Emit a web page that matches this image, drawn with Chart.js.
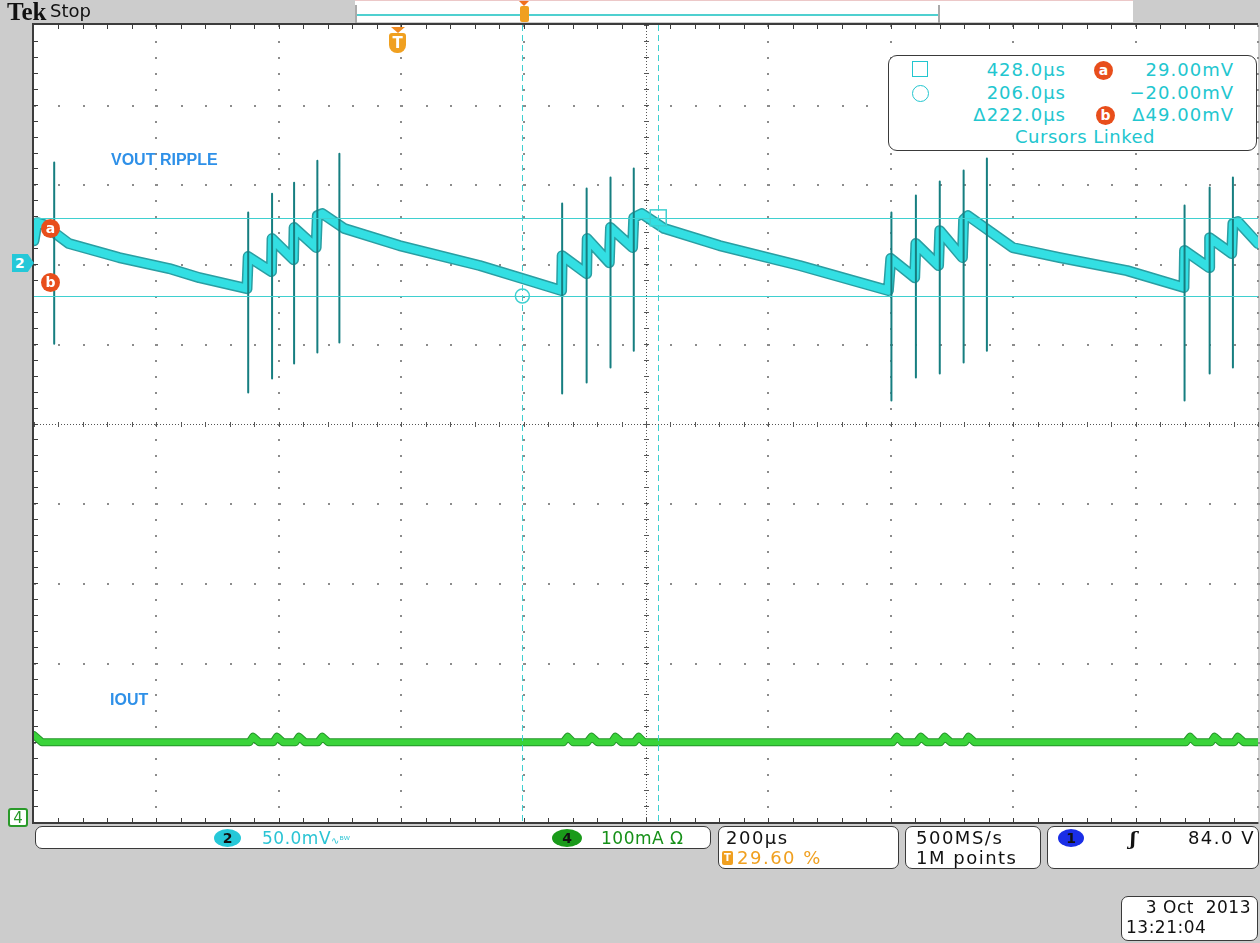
<!DOCTYPE html>
<html>
<head>
<meta charset="utf-8">
<title>Tek VOUT ripple</title>
<script src="https://cdn.jsdelivr.net/npm/chart.js@4.4.1/dist/chart.umd.min.js"></script>
<style>
  html, body { margin: 0; padding: 0; }
  body { width: 1260px; height: 943px; overflow: hidden; background: #cccccc; font-family: "DejaVu Sans", sans-serif; }
  #wrap { position: relative; width: 1260px; height: 943px; }
  #wrap canvas { position: absolute; left: 0; top: 0; }
  .t { position: absolute; white-space: nowrap; line-height: 20px; }
  .box { position: absolute; background: #fff; border: 1.5px solid #3a3a3a; border-radius: 7px; box-sizing: border-box; }
  .ro { font-size: 18px; letter-spacing: 1px; color: #22c6cf; }
  .info { font-size: 18px; letter-spacing: 1.5px; color: #111; }
  .dot { position: absolute; border-radius: 50%; text-align: center; font: bold 14px "DejaVu Sans"; line-height: 18px; }
  .lbl { position: absolute; font: bold 16px "Liberation Sans", Arial, sans-serif; color: #2e90e8; }
</style>
</head>
<body>
<div id="wrap">
  <canvas id="scope" width="1260" height="943"></canvas>

  <!-- top bar -->
  <div class="t" style="left:7px;top:-2px;font:bold 25px 'Liberation Serif';color:#111">Tek</div>
  <div class="t" style="left:50px;top:1px;font-size:18px;color:#111">Stop</div>
  <div style="position:absolute;left:355px;top:0;width:778px;height:21px;background:#fff;border-top:1px solid #ecc8c8"></div>
  <div style="position:absolute;left:357px;top:14px;width:582px;height:2px;background:#4fd0d0"></div>
  <div style="position:absolute;left:355px;top:5px;width:2px;height:18px;background:#aaa"></div>
  <div style="position:absolute;left:938px;top:5px;width:2px;height:18px;background:#aaa"></div>
  <div style="position:absolute;left:520px;top:6px;width:9px;height:16px;background:#f0a020;border-radius:2px"></div>
  <div style="position:absolute;left:519px;top:1px;width:0;height:0;border-left:5px solid transparent;border-right:5px solid transparent;border-top:5px solid #f07020"></div>

  <!-- trigger position marker -->
  <div style="position:absolute;left:391px;top:27px;width:0;height:0;border-left:7px solid transparent;border-right:7px solid transparent;border-top:6px solid #f08a20"></div>
  <div style="position:absolute;left:389px;top:33px;width:17px;height:20px;background:#f0a020;border-radius:3px 3px 8px 8px;color:#fff;font:bold 15px 'DejaVu Sans';text-align:center;line-height:20px">T</div>

  <!-- channel ground markers -->
  <div style="position:absolute;left:12px;top:254px;width:22px;height:18px;background:#25c8d8;clip-path:polygon(0 0,72% 0,100% 50%,72% 100%,0 100%);color:#fff;font:bold 14px 'DejaVu Sans';line-height:18px;padding-left:3px;box-sizing:border-box">2</div>
  <div style="position:absolute;left:8px;top:808px;width:20px;height:19px;background:#fff;border:2px solid #2a9a2a;border-radius:3px;color:#2a9a2a;font:15px 'DejaVu Sans';line-height:17px;text-align:center;box-sizing:border-box">4</div>

  <!-- cursor a / b tags on the left -->
  <div class="dot" style="left:41px;top:219px;width:19px;height:19px;background:#e84e1b;color:#fff">a</div>
  <div class="dot" style="left:41px;top:273px;width:19px;height:19px;background:#e84e1b;color:#fff">b</div>

  <!-- trace labels -->
  <div class="lbl" style="left:111px;top:151px">VOUT RIPPLE</div>
  <div class="lbl" style="left:110px;top:691px">IOUT</div>

  <!-- cursor readout -->
  <div class="box" style="left:888px;top:55px;width:369px;height:96px;border-radius:9px"></div>
  <div style="position:absolute;left:912px;top:61px;width:14px;height:14px;border:1.5px solid #22c6cf"></div>
  <div style="position:absolute;left:912px;top:85px;width:15px;height:15px;border:1.5px solid #22c6cf;border-radius:50%"></div>
  <div class="t ro" style="right:194px;top:60px">428.0µs</div>
  <div class="t ro" style="right:194px;top:83px">206.0µs</div>
  <div class="t ro" style="right:194px;top:105px">Δ222.0µs</div>
  <div class="t ro" style="right:26px;top:60px">29.00mV</div>
  <div class="t ro" style="right:26px;top:83px">−20.00mV</div>
  <div class="t ro" style="right:26px;top:105px">Δ49.00mV</div>
  <div class="t ro" style="left:1005px;top:127px;width:160px;text-align:center;letter-spacing:0.5px">Cursors Linked</div>
  <div class="dot" style="left:1094px;top:61px;width:19px;height:19px;background:#e84e1b;color:#fff">a</div>
  <div class="dot" style="left:1096px;top:106px;width:19px;height:19px;background:#e84e1b;color:#fff">b</div>

  <!-- bottom status bar -->
  <div class="box" style="left:35px;top:826px;width:676px;height:23px"></div>
  <div class="dot" style="left:214px;top:829px;width:27px;height:18px;background:#25c8d8;color:#111">2</div>
  <div class="t" style="left:262px;top:828px;font-size:17px;color:#2ac4d4;letter-spacing:0.5px">50.0mV<span style="font-size:10px;letter-spacing:0">∿ᴮᵂ</span></div>
  <div class="dot" style="left:552px;top:829px;width:30px;height:18px;background:#1a9a1a;color:#111">4</div>
  <div class="t" style="left:601px;top:828px;font-size:17px;color:#169018;letter-spacing:0.5px">100mA Ω</div>

  <div class="box" style="left:718px;top:826px;width:181px;height:43px"></div>
  <div class="t info" style="left:726px;top:828px">200µs</div>
  <div style="position:absolute;left:722px;top:851px;width:11px;height:14px;background:#f0a020;border-radius:2px;color:#fff;font:bold 10px 'DejaVu Sans';text-align:center;line-height:14px">T</div>
  <div class="t info" style="left:737px;top:848px;color:#f0a020">29.60 %</div>

  <div class="box" style="left:905px;top:826px;width:136px;height:43px"></div>
  <div class="t info" style="left:916px;top:828px">500MS/s</div>
  <div class="t info" style="left:916px;top:848px">1M points</div>

  <div class="box" style="left:1047px;top:826px;width:212px;height:43px"></div>
  <div class="dot" style="left:1058px;top:829px;width:26px;height:18px;background:#1a2ee6;color:#111">1</div>
  <div class="t" style="left:1130px;top:827px;font:bold italic 19px 'DejaVu Serif';color:#111">ʃ</div>
  <div class="t info" style="right:5px;top:828px">84.0 V</div>

  <div class="box" style="left:1121px;top:896px;width:137px;height:45px"></div>
  <div class="t" style="right:9px;top:897px;font-size:17px;color:#111;letter-spacing:0.5px">3 Oct&nbsp; 2013</div>
  <div class="t" style="left:1126px;top:917px;font-size:17px;color:#111;letter-spacing:0.5px">13:21:04</div>
</div>

<script>
// CH2 VOUT ripple (AC, 50 mV/div), trace key points
const vTime = [-592, -587, -576, -559, -535, -453, -371, -322, -244,
  -242, -204, -203, -168, -167, -131, -129, -121, -85, 5, 136, 206, 270,
  271, 311, 312, 348, 350, 386, 388, 401, 438, 528, 659, 804,
  808, 847, 849, 886, 888, 925, 927, 934, 1007, 1084, 1194, 1287,
  1288, 1328, 1329, 1365, 1367, 1375, 1408];
const vRipple = [14.7, 26.0, 24.8, 19.8, 12.9, 4.1, -2.8, -8.5, -15.4,
  4.7, -4.7, 16.0, 2.8, 22.9, 10.4, 30.4, 31.7, 22.3, 11.6, -0.9, -9.1, -16.6,
  5.3, -6.0, 16.0, 0.9, 22.9, 10.4, 29.2, 31.7, 22.3, 11.6, -0.9, -16.6,
  3.5, -8.5, 12.9, -0.9, 21.0, 4.1, 27.9, 30.4, 10.4, 4.1, -4.1, -14.7,
  8.5, -2.2, 16.6, 6.6, 25.4, 26.7, 12.9];

// switching spikes on CH2 (time, top, bottom in mV)
const spikeTime = [-559, -242, -203, -167, -129, -93, 271, 311, 350, 388,
  809, 849, 888, 927, 965, 1288, 1329, 1367];
const spikeHigh = [63.7, 32.3, 44.2, 51.1, 64.9, 69.3, 38.0, 47.4, 54.3, 59.9,
  32.3, 43.0, 51.8, 58.7, 66.2, 36.7, 48.0, 54.3];
const spikeLow = [-49.9, -80.6, -71.8, -62.4, -55.5, -49.2, -81.2, -74.3, -64.9, -54.3,
  -85.6, -71.2, -68.7, -61.8, -54.3, -85.6, -68.7, -64.9];

// CH4 IOUT (100 mA/div)
const iTime = [-592, -579,
  -240, -234, -224, -201, -195, -185, -165, -159, -149, -128, -121, -111,
  273, 280, 289, 312, 319, 329, 352, 358, 368, 389, 396, 405,
  811, 818, 827, 850, 857, 867, 889, 896, 906, 929, 935, 945,
  1290, 1297, 1306, 1331, 1337, 1347, 1369, 1375, 1385, 1408];
const iOut = [103, 94,
  94, 101, 94, 94, 101, 94, 94, 101, 94, 94, 101, 94,
  94, 101, 94, 94, 101, 94, 94, 101, 94, 94, 101, 94,
  94, 101, 94, 94, 101, 94, 94, 101, 94, 94, 101, 94,
  94, 101, 94, 94, 101, 94, 94, 101, 94, 94];

// cursors: [circle, square] times and [a, b] levels
const cursorTime = [206.0, 428.0];
const cursorVolt = [29.0, -20.0];

const ripplePts = vTime.map((t, i) => ({ x: t, y: vRipple[i] }));
const currentPts = iTime.map((t, i) => ({ x: t, y: iOut[i] }));
const spikePts = [];
spikeTime.forEach((t, i) => {
  spikePts.push({ x: t, y: spikeHigh[i] }, { x: t, y: spikeLow[i] }, { x: t, y: null });
});

// graticule: 10 x 10 divisions, dotted majors, dense center cross
const graticule = {
  id: "graticule",
  beforeDatasetsDraw(chart) {
    const { ctx, chartArea: a } = chart;
    const w = a.right - a.left, h = a.bottom - a.top;
    const dx = w / 10, dy = h / 10;
    ctx.save();
    ctx.fillStyle = "#fff";
    ctx.fillRect(a.left, a.top, w, h);

    ctx.fillStyle = "#8c8c8c";
    for (let i = 1; i <= 10; i++) {
      if (i === 5) continue;
      const x = Math.round(a.left + i * dx) - 1;
      for (let j = 0; j <= 50; j++) ctx.fillRect(x, Math.round(a.top + j * dy / 5), 2, 2);
      if (i === 10) continue;
      const y = Math.round(a.top + i * dy);
      for (let j = 0; j <= 50; j++) ctx.fillRect(Math.round(a.left + j * dx / 5), y, 2, 2);
    }

    const cx = Math.round(a.left + 5 * dx), cy = Math.round(a.top + 5 * dy);
    ctx.fillStyle = "#555";
    for (let y = a.top; y < a.bottom; y += 3) ctx.fillRect(cx, y, 1, 1);
    for (let x = a.left; x < a.right; x += 3) ctx.fillRect(x, cy, 1, 1);
    for (let j = 0; j <= 50; j++) {
      ctx.fillRect(cx - 2, Math.round(a.top + j * dy / 5), 5, 1);
      ctx.fillRect(Math.round(a.left + j * dx / 5), cy - 2, 1, 5);
    }

    // frame + edge ticks
    ctx.fillStyle = "#3c3c3c";
    ctx.fillRect(a.left - 2, a.top - 2, w + 2, 2);
    ctx.fillRect(a.left - 2, a.top - 2, 2, h + 4);
    ctx.fillRect(a.left - 2, a.bottom, w + 2, 2);
    for (let j = 1; j < 50; j++) {
      const y = Math.round(a.top + j * dy / 5);
      ctx.fillRect(a.left, y, 4, 1);
    }
    for (let j = 1; j < 50; j++) {
      const x = Math.round(a.left + j * dx / 5);
      ctx.fillRect(x, a.top, 1, 4);
      ctx.fillRect(x, a.bottom - 4, 1, 4);
    }
    ctx.restore();
  }
};

// cursor lines and their markers
const cursors = {
  id: "cursors",
  afterDatasetsDraw(chart) {
    const { ctx, chartArea: a, scales } = chart;
    ctx.save();
    ctx.strokeStyle = "#3fd0d0";
    ctx.lineWidth = 1;
    cursorVolt.forEach(v => {
      const y = Math.round(scales.y.getPixelForValue(v)) + 0.5;
      ctx.beginPath(); ctx.moveTo(a.left, y); ctx.lineTo(a.right, y); ctx.stroke();
    });
    ctx.setLineDash([6, 4]);
    cursorTime.forEach(t => {
      const x = Math.round(scales.x.getPixelForValue(t)) + 0.5;
      ctx.beginPath(); ctx.moveTo(x, a.top); ctx.lineTo(x, a.bottom); ctx.stroke();
    });
    ctx.setLineDash([]);
    ctx.lineWidth = 1.5;
    const sx = scales.x.getPixelForValue(cursorTime[1]);
    const sy = scales.y.getPixelForValue(cursorVolt[0]);
    ctx.strokeRect(sx - 8, sy - 8, 16, 16);
    const ox = scales.x.getPixelForValue(cursorTime[0]);
    const oy = scales.y.getPixelForValue(cursorVolt[1]);
    ctx.beginPath(); ctx.arc(ox, oy, 7, 0, Math.PI * 2); ctx.stroke();
    ctx.restore();
  }
};

new Chart(document.getElementById("scope"), {
  type: "line",
  data: {
    datasets: [
      { data: spikePts, borderColor: "#167e80", borderWidth: 2, spanGaps: false, order: 0, yAxisID: "y" },
      { data: ripplePts, borderColor: "#33dfe3", borderWidth: 8, order: 1, yAxisID: "y" },
      { data: ripplePts, borderColor: "#2a9ea2", borderWidth: 11, order: 2, yAxisID: "y" },
      { data: currentPts, borderColor: "#3ad43a", borderWidth: 6, order: 3, yAxisID: "y4" },
      { data: currentPts, borderColor: "#25952a", borderWidth: 8, order: 4, yAxisID: "y4" }
    ]
  },
  options: {
    responsive: false,
    animation: false,
    devicePixelRatio: 1,
    layout: { padding: { left: 34, top: 25, right: 2, bottom: 121 } },
    elements: {
      point: { radius: 0, hoverRadius: 0 },
      line: { tension: 0, borderJoinStyle: "round", borderCapStyle: "round" }
    },
    scales: {
      x: { type: "linear", min: -592, max: 1408, display: false },
      y: { type: "linear", min: -350, max: 150, display: false },
      y4: { type: "linear", min: -6, max: 994, display: false }
    },
    plugins: { legend: { display: false }, tooltip: { enabled: false } }
  },
  plugins: [graticule, cursors]
});
</script>
</body>
</html>
